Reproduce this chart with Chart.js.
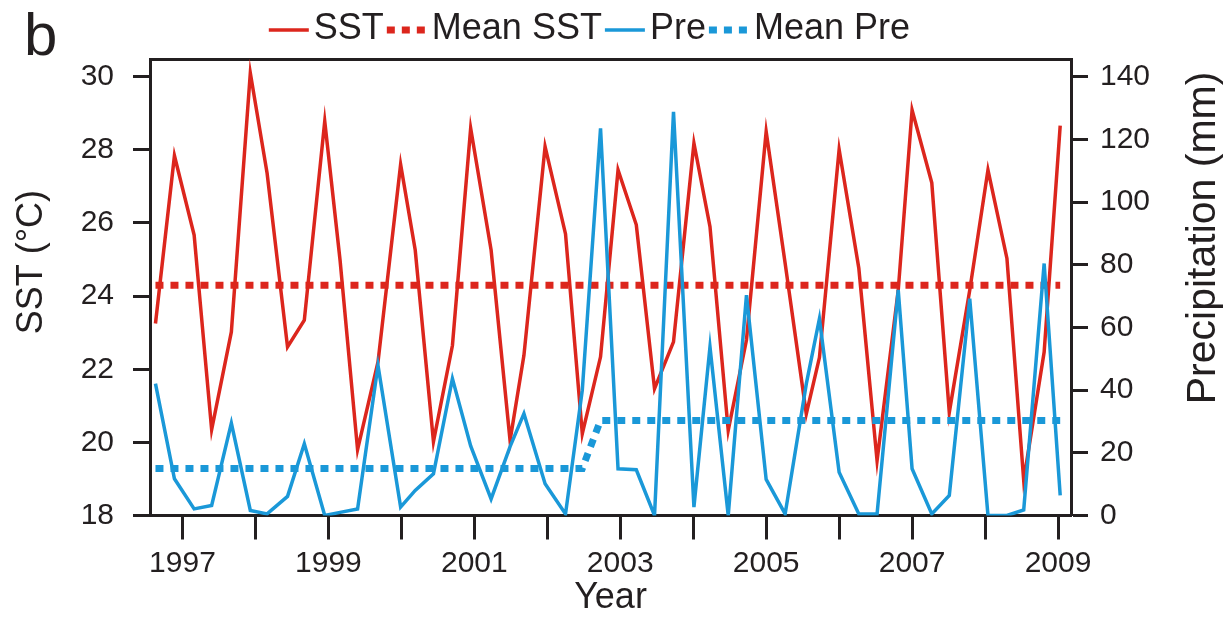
<!DOCTYPE html>
<html>
<head>
<meta charset="utf-8">
<script src="https://cdn.jsdelivr.net/npm/chart.js@4.4.1/dist/chart.umd.min.js"></script>
<style>
  html, body { margin: 0; padding: 0; background: #ffffff; }
  canvas { display: block; }
</style>
</head>
<body>
<canvas id="chart" width="1230" height="618"></canvas>
<script>
// ---- data ----
// observation times (decimal years)
const years = [
  1996.63, 1996.89, 1997.16, 1997.40, 1997.67, 1997.93, 1998.16, 1998.44, 1998.67, 1998.95,
  1999.16, 1999.40, 1999.68, 1999.99, 2000.19, 2000.44, 2000.70, 2000.95, 2001.23, 2001.49,
  2001.68, 2001.97, 2002.25, 2002.48, 2002.73, 2002.97, 2003.22, 2003.47, 2003.73, 2004.01,
  2004.23, 2004.48, 2004.73, 2005.00, 2005.26, 2005.55, 2005.73, 2006.00, 2006.27, 2006.52,
  2006.81, 2007.00, 2007.27, 2007.51, 2007.79, 2008.04, 2008.30, 2008.53, 2008.81, 2009.03
];
// sea surface temperature (°C)
const sst = [
  23.25, 27.84, 25.67, 20.35, 23.02, 30.10, 27.36, 22.61, 23.34, 28.78,
  24.98, 19.80, 22.20, 27.60, 25.26, 20.02, 22.65, 28.59, 25.26, 20.05,
  22.38, 28.09, 25.70, 20.24, 22.34, 27.45, 25.95, 21.47, 22.75, 28.18,
  25.90, 20.33, 22.80, 28.50, 24.90, 20.78, 22.32, 28.01, 24.76, 19.50,
  24.16, 29.09, 27.10, 20.82, 24.16, 27.45, 25.03, 18.96, 22.47, 28.66
];
// precipitation (mm)
const pre = [
  42.1, 11.7, 2.1, 3.2, 29.5, 1.6, 0.5, 6.1, 22.9, 0.0,
  1.0, 2.1, 47.9, 2.7, 8.0, 13.3, 43.7, 22.2, 5.3, 22.0,
  32.5, 10.1, 0.5, 40.0, 123.5, 14.9, 14.6, 0.0, 128.8, 2.7,
  53.8, 0.0, 70.3, 11.5, 0.5, 42.0, 62.8, 13.8, 0.5, 0.5,
  72.0, 14.9, 0.5, 6.4, 69.2, 0.0, 0.0, 1.8, 80.4, 6.4
];
const meanSST = 24.3;          // °C, whole record
const meanPreEarly = 15.0;     // mm, up to mid-2002
const meanPreLate = 30.35;     // mm, from late 2002
const preShiftIndex = 24;      // first observation of the later mean-precipitation period

const yearTicks = [1997, 1998, 1999, 2000, 2001, 2002, 2003, 2004, 2005, 2006, 2007, 2008, 2009];
const yearTickLabels = ['1997', '', '1999', '', '2001', '', '2003', '', '2005', '', '2007', '', '2009'];
const sstTicks = [18, 20, 22, 24, 26, 28, 30];
const preTicks = [0, 20, 40, 60, 80, 100, 120, 140];
const seriesNames = ['SST', 'Mean SST', 'Pre', 'Mean Pre'];

// ---- styling ----
const RED = '#dc261d';
const BLUE = '#1a98d8';
const INK = '#231f20';
const FAMILY = "'Liberation Sans', Arial, Helvetica, sans-serif";
const DOT = [8, 7];
const LINE_W = 3.5;

const toPoints = (vals) => years.map((x, i) => ({ x: x, y: vals[i] }));
const last = years.length - 1;

const meanSSTData = [
  { x: years[0], y: meanSST },
  { x: years[last], y: meanSST }
];
const meanPreData = [
  { x: years[0], y: meanPreEarly },
  { x: years[preShiftIndex - 1], y: meanPreEarly },
  { x: years[preShiftIndex], y: meanPreLate },
  { x: years[last], y: meanPreLate }
];

// x range and y ranges (the plot frame extends a little above the top tick)
const X_MIN = 1996.555, X_MAX = 2009.178;
const SST_MIN = 18, SST_MAX = 30.485;
const PRE_MIN = 0, PRE_MAX = 145.65;

const legendAndTitles = {
  id: 'legendAndTitles',
  afterDraw(chart) {
    const ctx = chart.ctx;
    const ca = chart.chartArea;
    const h = ca.bottom - ca.top;
    ctx.save();

    // panel letter
    ctx.fillStyle = INK;
    ctx.font = `60px ${FAMILY}`;
    ctx.textAlign = 'left';
    ctx.textBaseline = 'alphabetic';
    ctx.fillText('b', 24, 55);

    // legend row
    ctx.font = `36px ${FAMILY}`;
    ctx.textBaseline = 'middle';
    const lineLen = 40, gapLine = 5, gapText = 3;
    let x = ca.left + 0.129 * (ca.right - ca.left);
    const y = 29;
    chart.data.datasets.forEach((ds) => {
      ctx.beginPath();
      ctx.setLineDash(ds.borderDash || []);
      ctx.lineWidth = ds.borderWidth;
      ctx.strokeStyle = ds.borderColor;
      ctx.lineCap = 'butt';
      ctx.moveTo(x, y + 1);
      ctx.lineTo(x + lineLen, y + 1);
      ctx.stroke();
      ctx.setLineDash([]);
      x += lineLen + gapLine;
      ctx.fillStyle = INK;
      ctx.fillText(ds.label, x, y);
      x += ctx.measureText(ds.label).width + gapText;
    });

    // left axis title
    ctx.save();
    ctx.translate(32, ca.top + 0.445 * h);
    ctx.rotate(-Math.PI / 2);
    ctx.textAlign = 'center';
    ctx.textBaseline = 'middle';
    ctx.font = `36px ${FAMILY}`;
    ctx.fillText('SST (°C)', 0, 0);
    ctx.restore();

    // right axis title
    ctx.save();
    ctx.translate(chart.width - 26, ca.top + 0.392 * h);
    ctx.rotate(-Math.PI / 2);
    ctx.textAlign = 'center';
    ctx.textBaseline = 'middle';
    ctx.font = `41px ${FAMILY}`;
    ctx.fillText('Precipitation (mm)', 0, 0);
    ctx.restore();

    ctx.restore();
  }
};

const tickGrid = (len) => ({
  display: true,
  drawOnChartArea: false,
  drawTicks: true,
  tickLength: len,
  tickWidth: 3,
  tickColor: INK
});
const frame = { display: true, width: 3, color: INK };

new Chart(document.getElementById('chart'), {
  type: 'line',
  data: {
    datasets: [
      { label: seriesNames[0], data: toPoints(sst), yAxisID: 'y', borderColor: RED, backgroundColor: RED,
        borderWidth: LINE_W, pointRadius: 0, tension: 0, order: 3 },
      { label: seriesNames[1], data: meanSSTData, yAxisID: 'y', borderColor: RED, backgroundColor: RED,
        borderWidth: 7, borderDash: DOT, borderCapStyle: 'butt', pointRadius: 0, tension: 0, order: 2 },
      { label: seriesNames[2], data: toPoints(pre), yAxisID: 'y1', borderColor: BLUE, backgroundColor: BLUE,
        borderWidth: LINE_W, pointRadius: 0, tension: 0, order: 1 },
      { label: seriesNames[3], data: meanPreData, yAxisID: 'y1', borderColor: BLUE, backgroundColor: BLUE,
        borderWidth: 7, borderDash: DOT, borderCapStyle: 'butt', pointRadius: 0, tension: 0, order: 0 }
    ]
  },
  options: {
    responsive: false,
    animation: false,
    devicePixelRatio: 1,
    layout: { padding: { top: 54, left: 0, right: 0, bottom: 0 } },
    plugins: { legend: { display: false }, tooltip: { enabled: false } },
    scales: {
      x: {
        type: 'linear', position: 'bottom', min: X_MIN, max: X_MAX,
        afterBuildTicks: (axis) => { axis.ticks = yearTicks.map(v => ({ value: v })); },
        afterFit: (axis) => { axis.height = 102.5; },
        ticks: {
          autoSkip: false, maxRotation: 0, minRotation: 0, padding: 6, color: INK,
          font: { size: 30, family: FAMILY },
          callback: (v) => { const i = yearTicks.indexOf(v); return i >= 0 ? yearTickLabels[i] : ''; }
        },
        grid: tickGrid(24),
        border: frame,
        title: { display: true, text: 'Year', color: INK, padding: 0,
                 font: { size: 36, family: FAMILY, lineHeight: 1.1 } }
      },
      xTop: {
        type: 'linear', position: 'top', min: X_MIN, max: X_MAX,
        afterFit: (axis) => { axis.height = 5; },
        ticks: { display: false },
        grid: { display: false, drawTicks: false },
        border: frame
      },
      y: {
        type: 'linear', position: 'left', min: SST_MIN, max: SST_MAX,
        afterBuildTicks: (axis) => { axis.ticks = sstTicks.map(v => ({ value: v })); },
        afterFit: (axis) => { axis.width = 150; },
        ticks: { padding: 19, color: INK, font: { size: 30, family: FAMILY } },
        grid: tickGrid(17),
        border: frame
      },
      y1: {
        type: 'linear', position: 'right', min: PRE_MIN, max: PRE_MAX,
        afterBuildTicks: (axis) => { axis.ticks = preTicks.map(v => ({ value: v })); },
        afterFit: (axis) => { axis.width = 159; },
        ticks: { padding: 12, color: INK, font: { size: 30, family: FAMILY } },
        grid: tickGrid(17),
        border: frame
      }
    }
  },
  plugins: [legendAndTitles]
});
</script>
</body>
</html>
